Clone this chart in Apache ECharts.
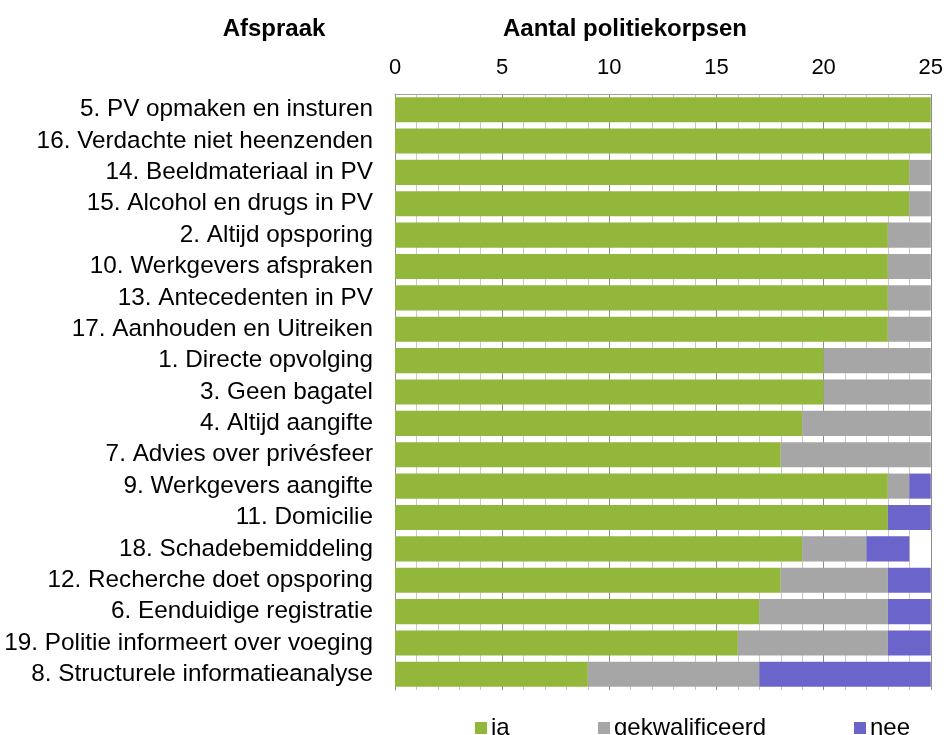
<!DOCTYPE html>
<html>
<head>
<meta charset="utf-8">
<script src="https://cdn.jsdelivr.net/npm/echarts@6/dist/echarts.min.js"></script>
<style>
  html, body { margin: 0; padding: 0; background: #fff; }
  #main { width: 946px; height: 735px; }
</style>
</head>
<body>
<div id="main"></div>
<script>
// afspraken, van boven naar beneden
var afspraken = [
  '5. PV opmaken en insturen',
  '16. Verdachte niet heenzenden',
  '14. Beeldmateriaal in PV',
  '15. Alcohol en drugs in PV',
  '2. Altijd opsporing',
  '10. Werkgevers afspraken',
  '13. Antecedenten in PV',
  '17. Aanhouden en Uitreiken',
  '1. Directe opvolging',
  '3. Geen bagatel',
  '4. Altijd aangifte',
  '7. Advies over privésfeer',
  '9. Werkgevers aangifte',
  '11. Domicilie',
  '18. Schadebemiddeling',
  '12. Recherche doet opsporing',
  '6. Eenduidige registratie',
  '19. Politie informeert over voeging',
  '8. Structurele informatieanalyse'
];
var ja =            [25, 25, 24, 24, 23, 23, 23, 23, 20, 20, 19, 18, 23, 23, 19, 18, 17, 16, 9];
var gekwalificeerd = [0, 0, 1, 1, 2, 2, 2, 2, 5, 5, 6, 7, 1, 0, 3, 5, 6, 7, 8];
var nee =            [0, 0, 0, 0, 0, 0, 0, 0, 0, 0, 0, 0, 1, 2, 2, 2, 2, 2, 8];
var xTicks = [0, 5, 10, 15, 20, 25];

var myChart = echarts.init(document.getElementById('main'));
var fontFam = '"Liberation Sans", Arial, sans-serif';

function legendAt(name, left) {
  return {
    data: [name],
    left: left,
    top: 711,
    itemWidth: 12,
    itemHeight: 12,
    itemGap: 6,
    icon: 'rect',
    selectedMode: false,
    textStyle: { fontSize: 24, color: '#000', fontFamily: fontFam, padding: [3, 0, 0, -1] }
  };
}

var option = {
  animation: false,
  textStyle: { fontFamily: fontFam },
  title: [
    { text: 'Afspraak', left: 269, top: 12, textAlign: 'center',
      textStyle: { fontSize: 24, fontWeight: 'bold', color: '#000', fontFamily: fontFam } },
    { text: 'Aantal politiekorpsen', left: 620, top: 12, textAlign: 'center',
      textStyle: { fontSize: 24, fontWeight: 'bold', color: '#000', fontFamily: fontFam } }
  ],
  legend: [
    legendAt('ja', 470),
    legendAt('gekwalificeerd', 593),
    legendAt('nee', 849)
  ],
  grid: { left: 395, right: 15, top: 94, bottom: 45 },
  xAxis: {
    type: 'value',
    position: 'top',
    min: xTicks[0],
    max: xTicks[xTicks.length - 1],
    interval: 5,
    axisLine: { show: true, lineStyle: { color: '#a0a0a0' } },
    axisTick: { show: false },
    axisLabel: { fontSize: 22, color: '#000', margin: 15, fontFamily: fontFam },
    splitLine: { show: true, lineStyle: { color: '#8c8c8c', width: 1 } },
    minorTick: { show: false, splitNumber: 5 },
    minorSplitLine: { show: true, lineStyle: { color: '#c8c8c8', width: 1 } }
  },
  yAxis: {
    type: 'category',
    inverse: true,
    data: afspraken,
    axisLine: { show: true, lineStyle: { color: '#8c8c8c' } },
    axisTick: { show: false },
    axisLabel: { fontSize: 24.3, color: '#000', margin: 22, fontFamily: fontFam }
  },
  series: [
    { name: 'ja', type: 'bar', stack: 'totaal', data: ja, barCategoryGap: '20%',
      itemStyle: { color: '#93b73b' } },
    { name: 'gekwalificeerd', type: 'bar', stack: 'totaal', data: gekwalificeerd,
      itemStyle: { color: '#a6a6a6' } },
    { name: 'nee', type: 'bar', stack: 'totaal', data: nee,
      itemStyle: { color: '#6b65cb' } }
  ]
};
myChart.setOption(option);
</script>
</body>
</html>
